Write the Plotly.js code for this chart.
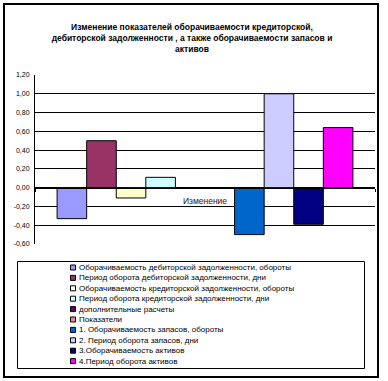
<!DOCTYPE html>
<html>
<head>
<meta charset="utf-8">
<script src="https://cdn.plot.ly/plotly-3.0.1.min.js"></script>
<style>html,body{margin:0;padding:0;background:#fff;}#chart{width:388px;height:381px;}</style>
</head>
<body>
<div id="chart"></div>
<script>
const category = ['Изменение'];
const seriesNames = [
  'Оборачиваемость дебиторской задолженности, обороты',
  'Период оборота дебиторской задолженности, дни',
  'Оборачиваемость кредиторской задолженности, обороты',
  'Период оборота кредиторской задолженности, дни',
  'дополнительные расчеты',
  'Показатели',
  '1. Оборачиваемость запасов, обороты',
  '2. Период оборота запасов, дни',
  '3.Оборачиваемость активов',
  '4.Период оборота активов'
];
const seriesValues = [-0.33, 0.50, -0.11, 0.11, null, null, -0.50, 1.00, -0.39, 0.64];
const seriesColors = ['#9999FF','#993366','#FFFFCC','#CCFFFF','#660066','#FF8080','#0066CC','#CCCCFF','#000080','#FF00FF'];
const yTickVals = [-0.6,-0.4,-0.2,0,0.2,0.4,0.6,0.8,1.0,1.2];
const yTickText = ['-0,60','-0,40','-0,20','0,00','0,20','0,40','0,60','0,80','1,00','1,20'];
const titleText = 'Изменение показателей оборачиваемости кредиторской,<br>дебиторской задолженности , а также оборачиваемости запасов и<br>активов';

const W = 388, H = 381;
const M = {l: 35, r: 13, t: 75, b: 137};
const pw = W - M.l - M.r, ph = H - M.t - M.b;
const px = x => (x - M.l) / pw;
const py = y => (H - M.b - y) / ph;

const traces = seriesNames.map((n, i) => ({
  type: 'bar', name: n, x: category, y: [seriesValues[i]],
  marker: {color: seriesColors[i], line: {color: '#000', width: 1}},
  showlegend: false, hoverinfo: 'skip'
}));

const shapes = [
  {type: 'rect', xref: 'paper', yref: 'paper', x0: px(4), x1: px(378), y0: py(4), y1: py(377), line: {color: '#000', width: 2}, layer: 'below'},
  {type: 'rect', xref: 'paper', yref: 'paper', x0: px(17.5), x1: px(364.5), y0: py(261.5), y1: py(368.5), line: {color: '#000', width: 1}}
];
const annotations = [];
const rowY0 = 267.5, rowH = 10.4;
seriesNames.forEach((n, i) => {
  const cy = rowY0 + i * rowH;
  shapes.push({type: 'rect', xref: 'paper', yref: 'paper', x0: px(70.5), x1: px(75.5), y0: py(cy - 2.5), y1: py(cy + 2.5), fillcolor: seriesColors[i], line: {color: '#000', width: 1}});
  annotations.push({xref: 'paper', yref: 'paper', x: px(77), y: py(cy), xanchor: 'left', yanchor: 'middle', text: n, showarrow: false, font: {family: 'Liberation Sans, Arial, sans-serif', size: 8, color: '#000'}});
});

const layout = {
  width: W, height: H,
  margin: M,
  paper_bgcolor: '#fff', plot_bgcolor: '#fff',
  font: {family: 'Liberation Sans, Arial, sans-serif', color: '#000'},
  title: {text: titleText, font: {size: 8.5, color: '#000', weight: 'bold'}, x: 192/W, xref: 'container', xanchor: 'center', y: 1 - 30/H, yref: 'container', yanchor: 'middle'},
  barmode: 'group', bargap: 0.13, bargroupgap: 0,
  xaxis: {type: 'category', anchor: 'free', position: 1/3, showline: true, linecolor: '#000', linewidth: 1,
          showgrid: false, ticks: 'outside', tickson: 'boundaries', ticklen: 3, tickcolor: '#000',
          ticklabelstandoff: 5, tickfont: {size: 8.5, color: '#222'}, fixedrange: true},
  yaxis: {range: [-0.6, 1.2], tickvals: yTickVals, ticktext: yTickText, showgrid: true, gridcolor: '#000', gridwidth: 1,
          zeroline: true, zerolinecolor: '#000', zerolinewidth: 1, showline: true, linecolor: '#000', linewidth: 1,
          ticks: '', ticklabelstandoff: 3, tickfont: {size: 7, color: '#000'}, fixedrange: true},
  shapes: shapes, annotations: annotations
};
Plotly.newPlot('chart', traces, layout, {staticPlot: true, displayModeBar: false});
</script>
</body>
</html>
